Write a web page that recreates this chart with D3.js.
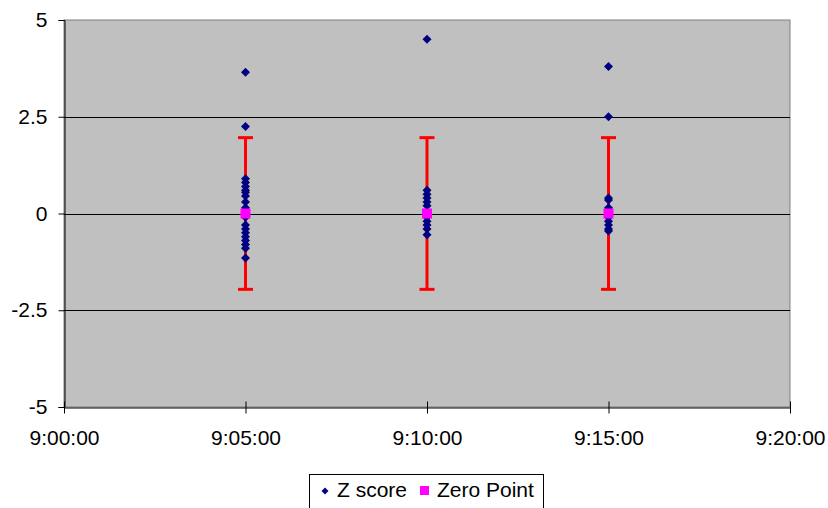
<!DOCTYPE html>
<html><head><meta charset="utf-8">
<script src="https://cdn.jsdelivr.net/npm/d3@7"></script>
<style>body{margin:0;background:#fff}svg{display:block}text{font-family:"Liberation Sans",Arial,sans-serif}</style>
</head><body>
<svg id="c" width="828" height="508"></svg>
<script>
// time in minutes after 9:00:00
const times = [5, 10, 15];
const zScores = [
  [3.65, 2.25, 0.9, 0.8, 0.7, 0.6, 0.55, 0.45, 0.3, 0.15, 0.05, -0.1, -0.3, -0.4, -0.5, -0.6, -0.7, -0.8, -0.9, -1.15],
  [4.5, 0.6, 0.5, 0.4, 0.3, 0.2, 0.05, -0.1, -0.2, -0.3, -0.4, -0.55],
  [3.8, 2.5, 0.4, 0.35, 0.15, 0.05, -0.1, -0.2, -0.3, -0.4, -0.45]
];
const zeroPoints = [0, 0, 0];
const errorBar = [1.96, 1.96, 1.96];
const xTickLabels = ["9:00:00", "9:05:00", "9:10:00", "9:15:00", "9:20:00"];
const xTickValues = [0, 5, 10, 15, 20];
const yTickValues = [-5, -2.5, 0, 2.5, 5];
const yTickLabels = ["-5", "-2.5", "0", "2.5", "5"];

const svg = d3.select("#c");
const L = 64, R = 790, T = 20, B = 407;
const x = d3.scaleLinear().domain([0, 20]).range([L, R]);
const y = d3.scaleLinear().domain([-5, 5]).range([B, T]);

svg.append("rect").attr("x", L).attr("y", T).attr("width", R - L).attr("height", B - T)
  .attr("fill", "#c0c0c0").attr("stroke", "#808080").attr("stroke-width", 1);

// gridlines
svg.append("g").selectAll("line").data(yTickValues.filter(v => v > -5 && v < 5)).join("line")
  .attr("x1", L).attr("x2", R).attr("y1", d => Math.round(y(d)) + 0.5).attr("y2", d => Math.round(y(d)) + 0.5)
  .attr("stroke", "#000").attr("stroke-width", 1);

// y axis
const yAxis = d3.axisLeft(y).tickValues(yTickValues).tickSize(6).tickPadding(11)
  .tickFormat((d, i) => yTickLabels[i]);
const gy = svg.append("g").attr("transform", `translate(${L + 0.5},0)`).call(yAxis);
gy.select(".domain").attr("stroke", "#000");
gy.selectAll("text").attr("font-size", 21).attr("fill", "#000").attr("font-family", "Liberation Sans, Arial, sans-serif");

// x axis
const xAxis = d3.axisBottom(x).tickValues(xTickValues).tickSize(0).tickPadding(23)
  .tickFormat((d, i) => xTickLabels[i]);
const gx = svg.append("g").attr("transform", `translate(0,${B + 0.5})`).call(xAxis);
gx.select(".domain").attr("stroke", "#000");
gx.selectAll("text").attr("font-size", 21).attr("fill", "#000").attr("font-family", "Liberation Sans, Arial, sans-serif");
gx.selectAll(".tick").append("line").attr("y1", -6).attr("y2", 6).attr("stroke", "#000");

// error bars
const eb = svg.append("g");
times.forEach((t, i) => {
  const cx = x(t);
  eb.append("line").attr("x1", cx).attr("x2", cx).attr("y1", y(zeroPoints[i] + errorBar[i])).attr("y2", y(zeroPoints[i] - errorBar[i]))
    .attr("stroke", "#ff0000").attr("stroke-width", 3);
  [1, -1].forEach(s => {
    eb.append("line").attr("x1", cx - 7.5).attr("x2", cx + 7.5)
      .attr("y1", y(zeroPoints[i] + s * errorBar[i])).attr("y2", y(zeroPoints[i] + s * errorBar[i]))
      .attr("stroke", "#ff0000").attr("stroke-width", 3);
  });
});

// z score diamonds
const pts = [];
times.forEach((t, i) => zScores[i].forEach(v => pts.push([t, v])));
const diamond = "M0,-4.5L4.5,0L0,4.5L-4.5,0Z";
svg.append("g").selectAll("path").data(pts).join("path")
  .attr("d", diamond).attr("transform", d => `translate(${x(d[0])},${y(d[1])})`)
  .attr("fill", "#000080");

// zero points
svg.append("g").selectAll("rect").data(times.map((t, i) => [t, zeroPoints[i]])).join("rect")
  .attr("x", d => x(d[0]) - 5).attr("y", d => y(d[1]) - 5).attr("width", 10).attr("height", 10)
  .attr("fill", "#ff00ff");

// legend
const lg = svg.append("g");
lg.append("rect").attr("x", 309.5).attr("y", 474.5).attr("width", 234).attr("height", 40)
  .attr("fill", "#fff").attr("stroke", "#000");
lg.append("path").attr("d", "M0,-3.5L3.5,0L0,3.5L-3.5,0Z").attr("transform", "translate(325,491)").attr("fill", "#000080");
lg.append("text").attr("x", 337).attr("y", 497).attr("font-size", 21).text("Z score");
lg.append("rect").attr("x", 420).attr("y", 486).attr("width", 9).attr("height", 9).attr("fill", "#ff00ff");
lg.append("text").attr("x", 437).attr("y", 497).attr("font-size", 21).text("Zero Point");
</script>
</body></html>
